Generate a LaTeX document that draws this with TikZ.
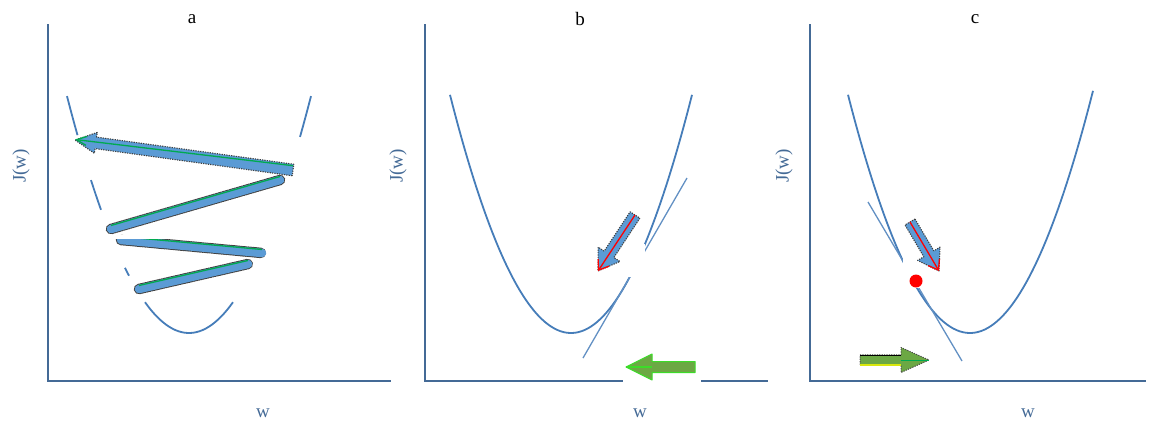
\documentclass[tikz,border=0pt]{standalone}
\usepackage{fontspec}
\setmainfont{Liberation Serif}
\usetikzlibrary{arrows.meta,calc}
\definecolor{axc}{RGB}{68,106,150}
\definecolor{cvc}{RGB}{70,125,185}
\definecolor{arc}{RGB}{91,155,213}
\definecolor{grc}{RGB}{0,170,80}
\definecolor{gfc}{RGB}{108,168,68}
\definecolor{gbc}{RGB}{60,220,40}
\tikzset{
  axisline/.style={draw=axc, line width=2pt},
  curveline/.style={draw=cvc, line width=1.8pt},
  tangline/.style={draw=cvc!85, line width=1.3pt},
  toplabel/.style={font=\fontsize{19}{21}\selectfont, text=black, inner sep=0pt},
  axlabel/.style={font=\fontsize{19}{21}\selectfont, text=axc, inner sep=0pt},
  fatborder/.style={draw=black!75, line width=10.5pt, dash pattern=on 1.2pt off 1.2pt},
  fatbody/.style={draw=arc, line width=8.5pt},
  bluearrow/.style={fill=arc, draw=black!75, line width=1.1pt, dash pattern=on 1.2pt off 1.2pt, line join=round},
  greenarrow/.style={fill=gfc, draw=gbc, line width=1pt, line join=round},
  greenarrowc/.style={fill=gfc, draw=black!70, line width=1pt, dash pattern=on 1.2pt off 1.2pt, line join=round},
  greenedge/.style={draw=grc, line width=1.3pt},
  redarrow/.style={draw=red, line width=1.3pt, -{Straight Barb[length=9pt,width=13pt]}},
  whitebox/.style={fill=white, draw=none},
}
% #1 style, #2 start, #3 tip, #4 shaft half width, #5 head half width, #6 head length
\newcommand\fatarrow[6]{%
  \coordinate (tmpN) at ($(#3)!#6!(#2)$);
  \path[#1] ($(#2)!#4!90:(#3)$) -- ($(tmpN)!#4!-90:(#2)$) -- ($(tmpN)!#5!-90:(#2)$)
    -- (#3) -- ($(tmpN)!#5!90:(#2)$) -- ($(tmpN)!#4!90:(#2)$) -- ($(#2)!#4!-90:(#3)$) -- cycle;
}
\begin{document}
\begin{tikzpicture}[x=1pt,y=-1pt]
\useasboundingbox (0,0) rectangle (1151,421);

% ---------------- panel a ----------------
\coordinate (ao) at (48,381);
\coordinate (aytop) at (48,24);
\coordinate (axend) at (391,381);
\draw[axisline] (aytop) -- (ao) -- (axend);
\node[toplabel] (la) at (192,19) {a};
\node[axlabel, rotate=90] (lja) at (21,166) {J(w)};
\node[axlabel] (lwa) at (263,413) {w};
\foreach \a/\b in {67/77.5, 91/101, 125/129, 145/233, 300/311}
  \draw[curveline] plot[domain=\a:\b, samples=30, smooth] (\x, {333-0.01592*(\x-189)*(\x-189)});

% arrows of panel a
\coordinate (a1s) at (293,170); \coordinate (a1e) at (75,140);
\coordinate (a2s) at (111,229); \coordinate (a2e) at (280,180);
\coordinate (a3s) at (121,240); \coordinate (a3e) at (262,253);
\coordinate (a4s) at (139,289); \coordinate (a4e) at (248,264);
\fatarrow{bluearrow}{a1s}{a1e}{5.8pt}{10.5pt}{21pt}
\draw[greenedge, -{Straight Barb[length=10pt,width=9pt]}] ([yshift=4.3pt]a1s) -- ([yshift=0.5pt]a1e);
\foreach \s/\e in {a2s/a2e, a3s/a3e, a4s/a4e}{
  \draw[fatborder, line cap=round] (\s) -- (\e);
  \draw[fatbody, line cap=round] (\s) -- (\e);
  \draw[greenedge] ([yshift=3.5pt]\s) -- ([yshift=3.5pt]\e);
}
\fill[whitebox] (112,234.5) rectangle (232,238.5);

% ---------------- panel b ----------------
\coordinate (bo) at (425,381);
\coordinate (bytop) at (425,24);
\coordinate (bxend) at (768,381);
\draw[axisline] (bytop) -- (bo) -- (bxend);
\node[toplabel] (lb) at (580,19) {b};
\node[axlabel, rotate=90] (ljb) at (398,166) {J(w)};
\node[axlabel] (lwb) at (640,413) {w};
\draw[curveline] plot[domain=450:692, samples=80, smooth] (\x, {333-0.01626*(\x-571)*(\x-571)});
\coordinate (bt1) at (583,358); \coordinate (bt2) at (687,178);
\draw[tangline] (bt1) -- (bt2);
\fill[whitebox] (619,244) rectangle (645,277);
\fill[whitebox] (623,352) rectangle (701,384);
% blue arrow b
\coordinate (b1s) at (635,215); \coordinate (b1e) at (598,271);
\fatarrow{bluearrow}{b1s}{b1e}{5.8pt}{13pt}{20pt}
\draw[redarrow] (b1s) -- (b1e);
% green arrow b
\coordinate (g1s) at (695,367); \coordinate (g1e) at (626,367);
\fatarrow{greenarrow}{g1s}{g1e}{5.5pt}{13pt}{26pt}
\draw[draw=gbc, line width=1.2pt] (g1e) -- ++(26,0);

% ---------------- panel c ----------------
\coordinate (co) at (810,381);
\coordinate (cytop) at (810,24);
\coordinate (cxend) at (1146,381);
\draw[axisline] (cytop) -- (co) -- (cxend);
\node[toplabel] (lc) at (975,19) {c};
\node[axlabel, rotate=90] (ljc) at (784,166) {J(w)};
\node[axlabel] (lwc) at (1028,413) {w};
\draw[curveline] plot[domain=848:1093, samples=80, smooth] (\x, {333-0.016*(\x-970)*(\x-970)});
\coordinate (ct1) at (868,202); \coordinate (ct2) at (962,361);
\draw[tangline] (ct1) -- (ct2);
\fill[whitebox] (903,240) rectangle (920,288);
\node[circle, fill=red, inner sep=0pt, minimum size=13pt] (dot) at (916,281) {};
% blue arrow c
\coordinate (c1s) at (910,222); \coordinate (c1e) at (939,271);
\fatarrow{bluearrow}{c1s}{c1e}{5.8pt}{13pt}{20pt}
\draw[redarrow] (c1s) -- (c1e);
% green arrow c
\coordinate (g2s) at (860,360); \coordinate (g2e) at (929,360);
\fatarrow{greenarrowc}{g2s}{g2e}{5.2pt}{12.5pt}{28pt}
\draw[draw=yellow!85!green, line width=1.4pt] ([yshift=-5pt]g2s) -- ([yshift=-5pt,xshift=-28pt]g2e);
\draw[draw=black, line width=1.4pt] ([yshift=4.8pt]g2s) -- ([yshift=4.8pt,xshift=-28pt]g2e);
\draw[draw=grc, line width=1pt] ([xshift=-28pt]g2e) -- (g2e);
\end{tikzpicture}
\end{document}
